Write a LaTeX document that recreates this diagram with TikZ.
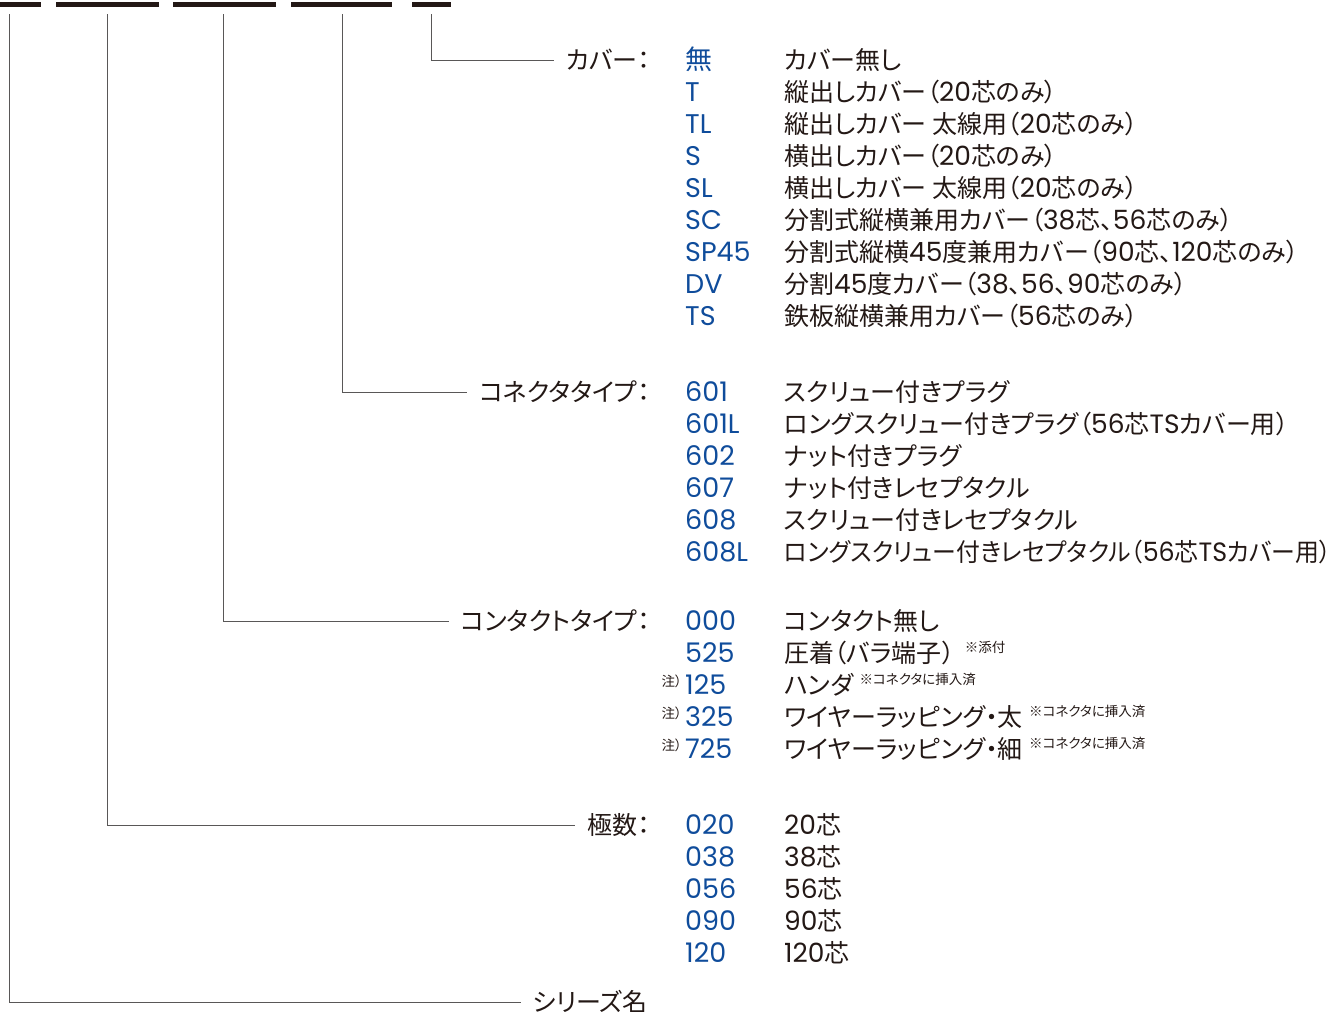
\documentclass[tikz,border=0pt]{standalone}
\usepackage{fontspec}
\setmainfont{Noto Sans CJK JP}[RawFeature=+palt]
\newfontfamily\latinfont{Poppins}
\usetikzlibrary{positioning}
\definecolor{ink}{HTML}{231815}
\definecolor{codeblue}{HTML}{0F4C9B}
\definecolor{leader}{HTML}{595757}
\newcommand{\nm}[1]{{\fontsize{26.5}{25}\selectfont\latinfont #1}}
\begin{document}
\begin{tikzpicture}[x=1pt, y=-1pt,
	txt/.style={inner sep=0pt, anchor=west, text height=22pt, text depth=3pt, font=\fontsize{25}{25}\selectfont, text=ink},
	code/.style={txt, text=codeblue, font=\fontsize{27}{25}\selectfont\latinfont},
	head/.style={txt, anchor=east},
	note/.style={inner sep=0pt, font=\fontsize{13.5}{13.5}\selectfont, text=ink},
	lead/.style={draw=leader, line width=1pt}]
	\useasboundingbox (0,0) rectangle (1336,1012);
	%	bars of the part number
	\foreach \a/\b in {0/41,56/159,173/276,291/392,412/451}\fill[ink] (\a,2) rectangle (\b,7);
	\path
	(9,14) coordinate (t1)
	(107,14) coordinate (t2)
	(223,14) coordinate (t3)
	(342,14) coordinate (t4)
	(431,14) coordinate (t5)
	;
	%	headings
	\node[head] (hcov) at (650,60) {カバー：};
	\node[head] (hcon) at (650,392) {コネクタタイプ：};
	\node[head] (hcnt) at (650,621) {コンタクトタイプ：};
	\node[head] (hpol) at (650,825) {極数：};
	\node[head] (hser) at (648,1002) {シリーズ名};
	\draw[lead] (t5) |- ([xshift=-12pt]hcov.west);
	\draw[lead] (t4) |- ([xshift=-12pt]hcon.west);
	\draw[lead] (t3) |- ([xshift=-12pt]hcnt.west);
	\draw[lead] (t2) |- ([xshift=-12pt]hpol.west);
	\draw[lead] (t1) |- ([xshift=-11pt]hser.west);
	%	cover
	\foreach \i/\c/\t in {
		0/{\rmfamily 無}/カバー無し,
		1/T/縦出しカバー（\nm{20}芯のみ）,
		2/TL/縦出しカバー 太線用（\nm{20}芯のみ）,
		3/S/横出しカバー（\nm{20}芯のみ）,
		4/SL/横出しカバー 太線用（\nm{20}芯のみ）,
		5/SC/分割式縦横兼用カバー（\nm{38}芯、\nm{56}芯のみ）,
		6/SP45/分割式縦横\nm{45}度兼用カバー（\nm{90}芯、\nm{120}芯のみ）,
		7/DV/分割\nm{45}度カバー（\nm{38}、\nm{56}、\nm{90}芯のみ）,
		8/TS/鉄板縦横兼用カバー（\nm{56}芯のみ）}{
		\node[code] (cc\i) at (685,60+32*\i) {\c};
		\node[txt] (cd\i) at (784,60+32*\i) {\t};
	}
	%	connector type
	\foreach \i/\c/\t in {
		0/601/スクリュー付きプラグ,
		1/601L/ロングスクリュー付きプラグ（\nm{56}芯\nm{TS}カバー用）,
		2/602/ナット付きプラグ,
		3/607/ナット付きレセプタクル,
		4/608/スクリュー付きレセプタクル,
		5/608L/{\scalebox{0.955}[1]{ロングスクリュー付きレセプタクル（\nm{56}芯\nm{TS}カバー用）}}}{
		\node[code] (nc\i) at (685,392+32*\i) {\c};
		\node[txt] (nd\i) at (784,392+32*\i) {\t};
	}
	%	contact type
	\foreach \i/\c/\t in {
		0/000/コンタクト無し,
		1/525/圧着（バラ端子）,
		2/125/ハンダ,
		3/325/ワイヤーラッピング・太,
		4/725/ワイヤーラッピング・細}{
		\node[code] (kc\i) at (685,621+32*\i) {\c};
		\node[txt] (kd\i) at (784,621+32*\i) {\t};
	}
	\node[note, anchor=north west] at ([xshift=10pt, yshift=-1pt]kd1.north east) {※添付};
	\foreach \i in {2,3,4}{
		\node[note, anchor=north east] at ([xshift=-3pt, yshift=-2pt]kc\i.north west) {注）};
		\node[note, anchor=north west] at ([xshift=6pt, yshift=-1pt]kd\i.north east) {※コネクタに挿入済};
	}
	%	number of poles
	\foreach \i/\c/\t in {0/020/20,1/038/38,2/056/56,3/090/90,4/120/120}{
		\node[code] (pc\i) at (685,825+32*\i) {\c};
		\node[txt] (pd\i) at (784,825+32*\i) {\nm{\t}芯};
	}
\end{tikzpicture}
\end{document}
